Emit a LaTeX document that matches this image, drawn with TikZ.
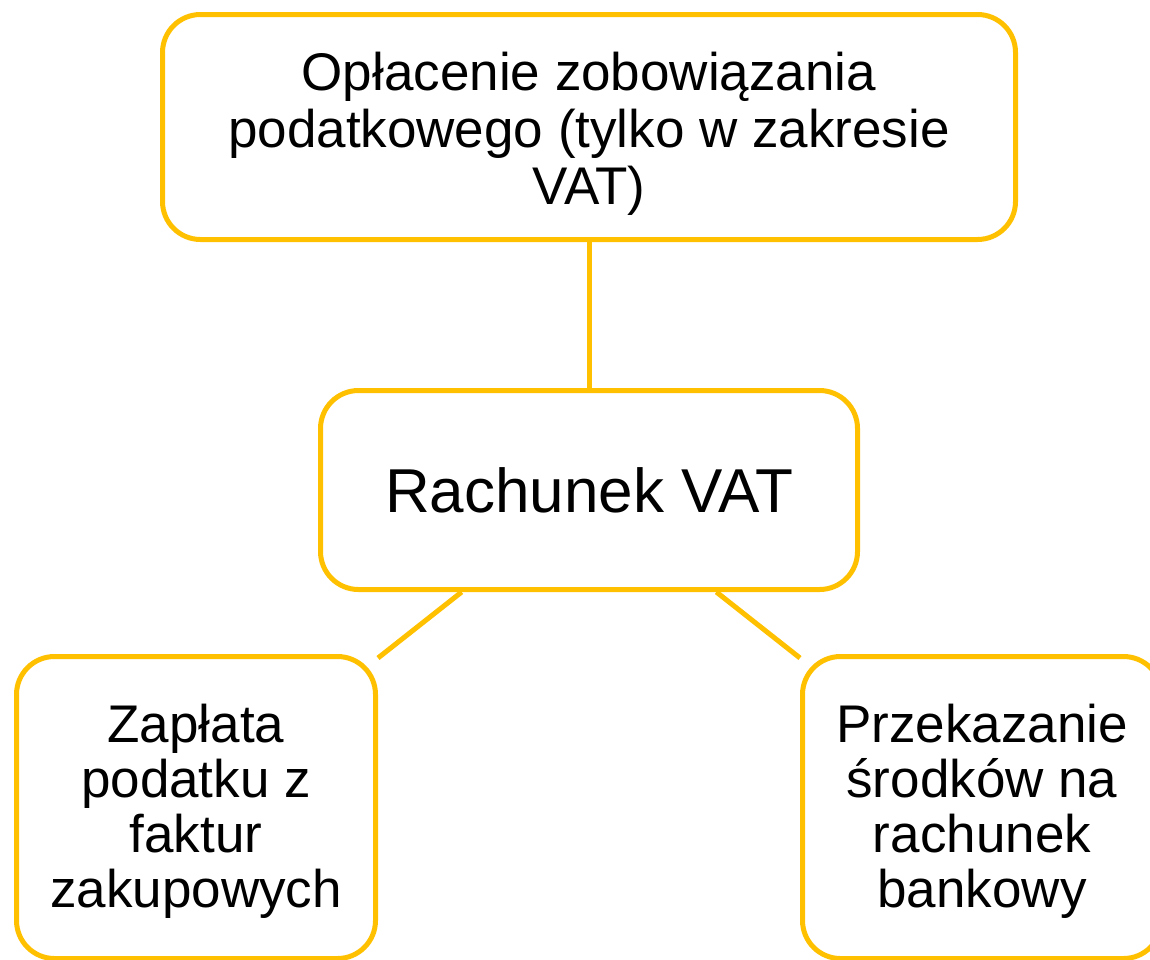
\documentclass[tikz,border=0pt]{standalone}
\usepackage{fontspec}
\setmainfont{Liberation Sans}
\usetikzlibrary{positioning,calc}
\definecolor{vatgold}{RGB}{255,192,0}
\newcommand{\firstline}[1]{\rule{0pt}{#1}}

\begin{document}
\begin{tikzpicture}[x=1pt, y=1pt,
  box/.style={rectangle, draw=vatgold, line width=5pt, rounded corners=38pt, inner sep=0pt, align=center, font=\fontsize{53}{57}\selectfont},
  leafbox/.style={box, minimum width=359pt, minimum height=302pt, font=\fontsize{53}{55}\selectfont},
  link/.style={draw=vatgold, line width=5pt}]
\useasboundingbox (0,0) rectangle (1150,-959);

\node[box, minimum width=853pt, minimum height=225pt] (payment) at (589,-127) {\firstline{51pt}Opłacenie zobowiązania\\ podatkowego (tylko w zakresie\\ VAT)};
\node[box, below = 146pt of payment, minimum width=537pt, minimum height=199pt, font=\fontsize{62}{66}\selectfont] (vat) {Rachunek VAT};
\path[link] (payment) edge (vat);

\node[leafbox, below left = 62pt and 211pt of vat.south] (invoices) {\firstline{45pt}Zapłata\\ podatku z\\ faktur\\ zakupowych};
\node[leafbox, below right = 62pt and 211pt of vat.south] (transfer) {\firstline{45pt}Przekazanie\\ środków na\\ rachunek\\ bankowy};
\path[link] ($(vat.south west)!0.53!(vat.south)$) edge ([yshift=-4pt]invoices.north east);
\path[link] ($(vat.south east)!0.53!(vat.south)$) edge ([yshift=-4pt]transfer.north west);
\end{tikzpicture}
\end{document}
